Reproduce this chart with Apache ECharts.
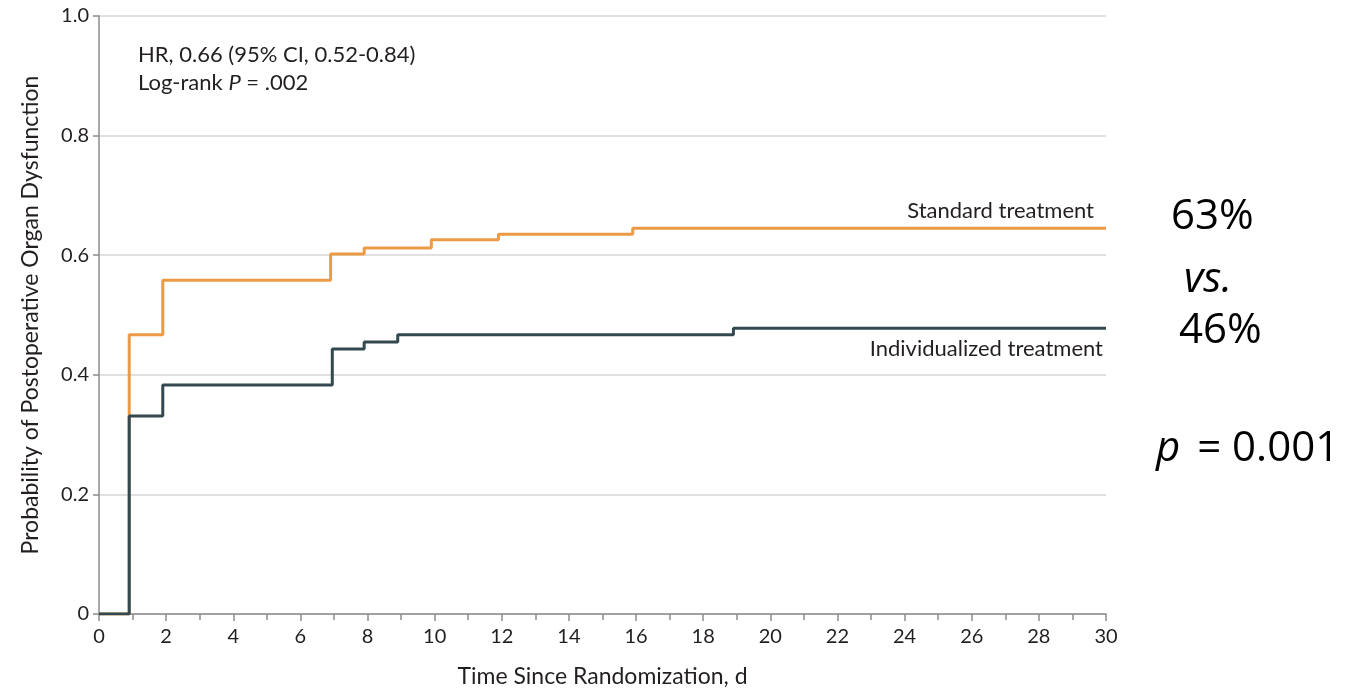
<!DOCTYPE html>
<html>
<head>
<meta charset="utf-8">
<script src="https://cdn.jsdelivr.net/npm/echarts@6/dist/echarts.min.js"></script>
<style>
  html, body { margin: 0; padding: 0; background: #fff; }
  #chart { width: 1358px; height: 688px; }
</style>
</head>
<body>
<div id="chart"></div>
<script>
// Kaplan-Meier cumulative incidence (days since randomization, probability)
const standardDays = [0, 0.9, 1.9, 6.9, 7.9, 9.9, 11.9, 15.9, 30];
const standardProb = [0, 0.467, 0.558, 0.602, 0.612, 0.626, 0.635, 0.645, 0.645];
const individualDays = [0, 0.9, 1.9, 6.95, 7.9, 8.9, 18.9, 30];
const individualProb = [0, 0.331, 0.383, 0.443, 0.455, 0.467, 0.478, 0.478];

const seriesNames = ['Standard treatment', 'Individualized treatment'];
const statLines = ['HR, 0.66 (95% CI, 0.52-0.84)', 'Log-rank ', 'P', ' = .002'];
const sideNotes = ['63%', 'vs.', '46%', 'p', ' = 0.001'];

const FONT = 'Lato, "Open Sans", sans-serif';
const NOTE_FONT = '"Open Sans", sans-serif';
const TEXT = '#231f20';
const ORANGE = '#ec9a45';
const DARK = '#33494f';

const zip = (xs, ys) => xs.map((x, i) => [x, ys[i]]);

const chart = echarts.init(document.getElementById('chart'));
chart.setOption({
  animation: false,
  backgroundColor: '#fff',
  grid: { left: 99, right: 252, top: 16, bottom: 74, containLabel: false, outerBoundsMode: 'none' },
  xAxis: {
    type: 'value', min: 0, max: 30, interval: 2,
    name: 'Time Since Randomization, d', nameLocation: 'middle', nameGap: 51,
    nameTextStyle: { fontFamily: FONT, fontSize: 23, color: TEXT },
    axisLine: { lineStyle: { color: '#8c8c8c', width: 1.5 } },
    axisTick: { show: true, length: 7, lineStyle: { color: '#8c8c8c', width: 1.5 } },
    minorTick: { show: true, splitNumber: 2, length: 6, lineStyle: { color: '#8c8c8c', width: 1.5 } },
    axisLabel: { fontFamily: FONT, fontSize: 20, color: TEXT, margin: 13 },
    splitLine: { show: false }
  },
  yAxis: {
    type: 'value', min: 0, max: 1, interval: 0.2,
    name: 'Probability of Postoperative Organ Dysfunction', nameLocation: 'middle', nameGap: 57,
    nameTextStyle: { fontFamily: FONT, fontSize: 23, color: TEXT },
    axisLine: { show: true, lineStyle: { color: '#8c8c8c', width: 1.5 } },
    axisTick: { show: true, length: 6, lineStyle: { color: '#8c8c8c', width: 1.5 } },
    axisLabel: {
      fontFamily: FONT, fontSize: 20, color: TEXT, margin: 10,
      formatter: v => (v === 0 ? '0' : v.toFixed(1))
    },
    splitLine: { show: true, lineStyle: { color: '#d6d6d6', width: 1.5 } }
  },
  series: [
    {
      name: seriesNames[0], type: 'line', step: 'end', symbol: 'none',
      data: zip(standardDays, standardProb),
      lineStyle: { color: ORANGE, width: 3 }, z: 2
    },
    {
      name: seriesNames[1], type: 'line', step: 'end', symbol: 'none',
      data: zip(individualDays, individualProb),
      lineStyle: { color: DARK, width: 3 }, z: 3
    }
  ],
  graphic: [
    {
      type: 'text', x: 138, y: 55,
      style: { text: statLines[0], font: '22px ' + FONT, fill: TEXT, verticalAlign: 'middle' }
    },
    {
      type: 'text', x: 138, y: 83,
      style: {
        text: '{n|' + statLines[1] + '}{i|' + statLines[2] + '}{n|' + statLines[3] + '}',
        verticalAlign: 'middle',
        rich: {
          n: { font: '22px ' + FONT, fill: TEXT },
          i: { font: 'italic 22px ' + FONT, fill: TEXT }
        }
      }
    },
    {
      type: 'text', x: 1094, y: 211,
      style: { text: seriesNames[0], font: '22px ' + FONT, fill: TEXT, align: 'right', verticalAlign: 'middle' }
    },
    {
      type: 'text', x: 1103, y: 349,
      style: { text: seriesNames[1], font: '22px ' + FONT, fill: TEXT, align: 'right', verticalAlign: 'middle' }
    },
    {
      type: 'text', left: 1171, top: 196,
      style: { text: sideNotes[0], font: '42px ' + NOTE_FONT, fill: '#000' }
    },
    {
      type: 'text', left: 1184, top: 259,
      style: { text: sideNotes[1], font: 'italic 42px ' + NOTE_FONT, fill: '#000' }
    },
    {
      type: 'text', left: 1179, top: 310,
      style: { text: sideNotes[2], font: '42px ' + NOTE_FONT, fill: '#000' }
    },
    {
      type: 'text', left: 1156, top: 428,
      style: {
        text: '{i|' + sideNotes[3] + '}{n|' + sideNotes[4] + '}',
        rich: {
          n: { font: '42px ' + NOTE_FONT, fill: '#000' },
          i: { font: 'italic 42px ' + NOTE_FONT, fill: '#000', padding: [0, 6, 0, 0] }
        }
      }
    }
  ]
});
</script>
</body>
</html>
